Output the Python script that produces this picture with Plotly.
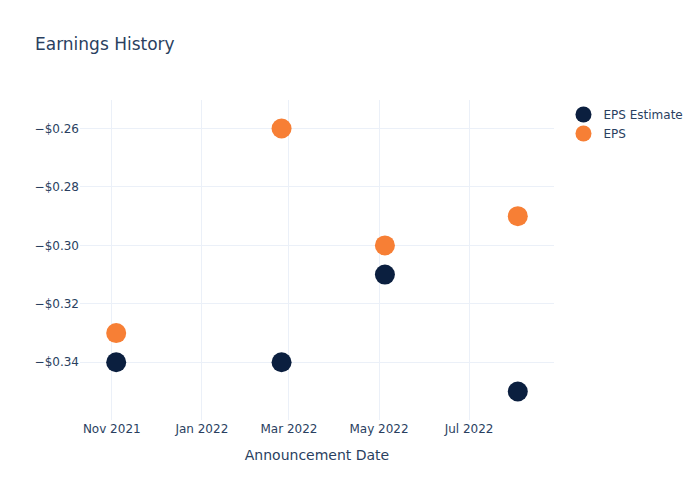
import plotly.graph_objects as go

dates = ["2021-11-04", "2022-02-24", "2022-05-05", "2022-08-03"]
eps_estimate = [-0.34, -0.34, -0.31, -0.35]
eps_actual = [-0.33, -0.26, -0.30, -0.29]

fig = go.Figure()
fig.add_trace(go.Scatter(x=dates, y=eps_estimate, mode="markers", name="EPS Estimate",
                         marker=dict(size=20, color="#0b1f3f")))
fig.add_trace(go.Scatter(x=dates, y=eps_actual, mode="markers", name="EPS",
                         marker=dict(size=20, color="#f77f35")))
fig.update_layout(
    template="plotly_white",
    width=700, height=500,
    font=dict(family="DejaVu Sans"),
    title=dict(text="Earnings History"),
    xaxis=dict(title=dict(text="Announcement Date"), dtick="M2", tickformat="%b %Y"),
    yaxis=dict(tickformat="$.2f"),
)
fig.write_html("out.html")
